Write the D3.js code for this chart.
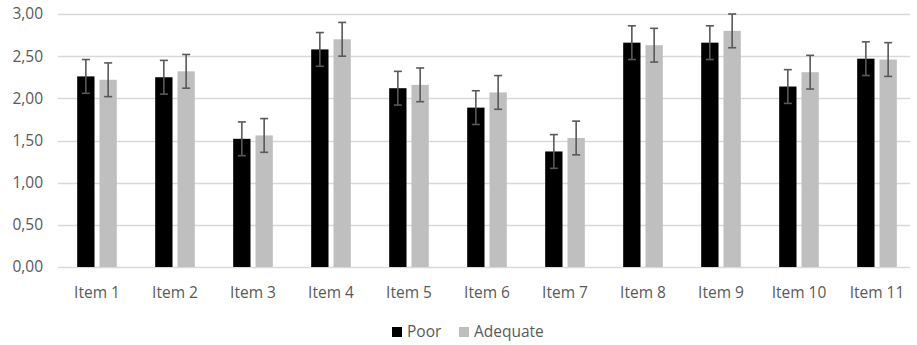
<!DOCTYPE html>
<html>
<head>
<meta charset="utf-8">
<script src="https://cdn.jsdelivr.net/npm/d3@7/dist/d3.min.js"></script>
<style>
  html, body { margin: 0; padding: 0; background: #fff; }
  svg { display: block; font-family: "Open Sans", "Noto Sans", sans-serif; }
</style>
</head>
<body>
<svg id="chart" width="917" height="345"></svg>
<script>
// Mean scores per item for each group, with error-bar half widths
const categories = ["Item 1", "Item 2", "Item 3", "Item 4", "Item 5", "Item 6",
                    "Item 7", "Item 8", "Item 9", "Item 10", "Item 11"];
const poorValues     = [2.26, 2.25, 1.52, 2.58, 2.12, 1.89, 1.37, 2.66, 2.66, 2.14, 2.47];
const adequateValues = [2.22, 2.32, 1.56, 2.70, 2.16, 2.07, 1.53, 2.63, 2.80, 2.31, 2.46];
const poorErrors     = [0.20, 0.20, 0.20, 0.20, 0.20, 0.20, 0.20, 0.20, 0.20, 0.20, 0.20];
const adequateErrors = [0.20, 0.20, 0.20, 0.20, 0.20, 0.20, 0.20, 0.20, 0.20, 0.20, 0.20];
const yTicks = [0, 0.5, 1, 1.5, 2, 2.5, 3];

const seriesNames = ["Poor", "Adequate"];
const seriesColors = ["#000000", "#bfbfbf"];
const series = [
  { name: seriesNames[0], values: poorValues, errors: poorErrors, color: seriesColors[0] },
  { name: seriesNames[1], values: adequateValues, errors: adequateErrors, color: seriesColors[1] }
];

const svg = d3.select("#chart");
const margin = { left: 58, right: 1, top: 14, bottom: 78 };
const W = 917, H = 345;

const x = d3.scaleBand().domain(categories).range([margin.left, W - margin.right]).padding(0);
const y = d3.scaleLinear().domain([0, 3]).range([H - margin.bottom, margin.top]);

const step = x.bandwidth();
const barW = step * 0.222;
const innerGap = step * 0.064;
const offsets = [-(barW + innerGap / 2), innerGap / 2];

// Horizontal gridlines
svg.append("g")
  .selectAll("line")
  .data(yTicks)
  .join("line")
  .attr("x1", margin.left)
  .attr("x2", W - margin.right - 6)
  .attr("y1", d => Math.round(y(d)) + 0.5)
  .attr("y2", d => Math.round(y(d)) + 0.5)
  .attr("stroke", "#d9d9d9")
  .attr("stroke-width", 1.3);

// Y-axis labels (decimal comma)
const fmt = d => d3.format(".2f")(d).replace(".", ",");
svg.append("g")
  .selectAll("text")
  .data(yTicks)
  .join("text")
  .attr("x", 43)
  .attr("y", d => y(d))
  .attr("dy", "0.35em")
  .attr("text-anchor", "end")
  .attr("fill", "#595959")
  .attr("font-size", 15.5)
  .text(fmt);

// Bars
series.forEach((s, si) => {
  svg.append("g")
    .selectAll("rect")
    .data(categories)
    .join("rect")
    .attr("x", (c) => x(c) + step / 2 + offsets[si])
    .attr("y", (c, i) => y(s.values[i]))
    .attr("width", barW)
    .attr("height", (c, i) => y(0) - y(s.values[i]))
    .attr("fill", s.color);
});

// Error bars
const capW = 8;
series.forEach((s, si) => {
  const g = svg.append("g").attr("stroke", "#595959").attr("stroke-width", 1.6).attr("fill", "none");
  categories.forEach((c, i) => {
    const cx = x(c) + step / 2 + offsets[si] + barW / 2;
    const hi = y(s.values[i] + s.errors[i]);
    const lo = y(s.values[i] - s.errors[i]);
    g.append("line").attr("x1", cx).attr("x2", cx).attr("y1", hi).attr("y2", lo);
    g.append("line").attr("x1", cx - capW / 2).attr("x2", cx + capW / 2).attr("y1", hi).attr("y2", hi);
    g.append("line").attr("x1", cx - capW / 2).attr("x2", cx + capW / 2).attr("y1", lo).attr("y2", lo);
  });
});

// Category labels
svg.append("g")
  .selectAll("text")
  .data(categories)
  .join("text")
  .attr("x", c => x(c) + step / 2)
  .attr("y", 293)
  .attr("dy", "0.35em")
  .attr("text-anchor", "middle")
  .attr("fill", "#595959")
  .attr("font-size", 15.5)
  .text(c => c);

// Legend
const legend = svg.append("g");
const legendItems = [{ x: 392 }, { x: 459 }];
series.forEach((s, si) => {
  const lx = legendItems[si].x;
  legend.append("rect")
    .attr("x", lx).attr("y", 327).attr("width", 10).attr("height", 10)
    .attr("fill", s.color);
  legend.append("text")
    .attr("x", lx + 15).attr("y", 332)
    .attr("dy", "0.35em")
    .attr("fill", "#595959")
    .attr("font-size", 15.5)
    .text(s.name);
});
</script>
</body>
</html>
